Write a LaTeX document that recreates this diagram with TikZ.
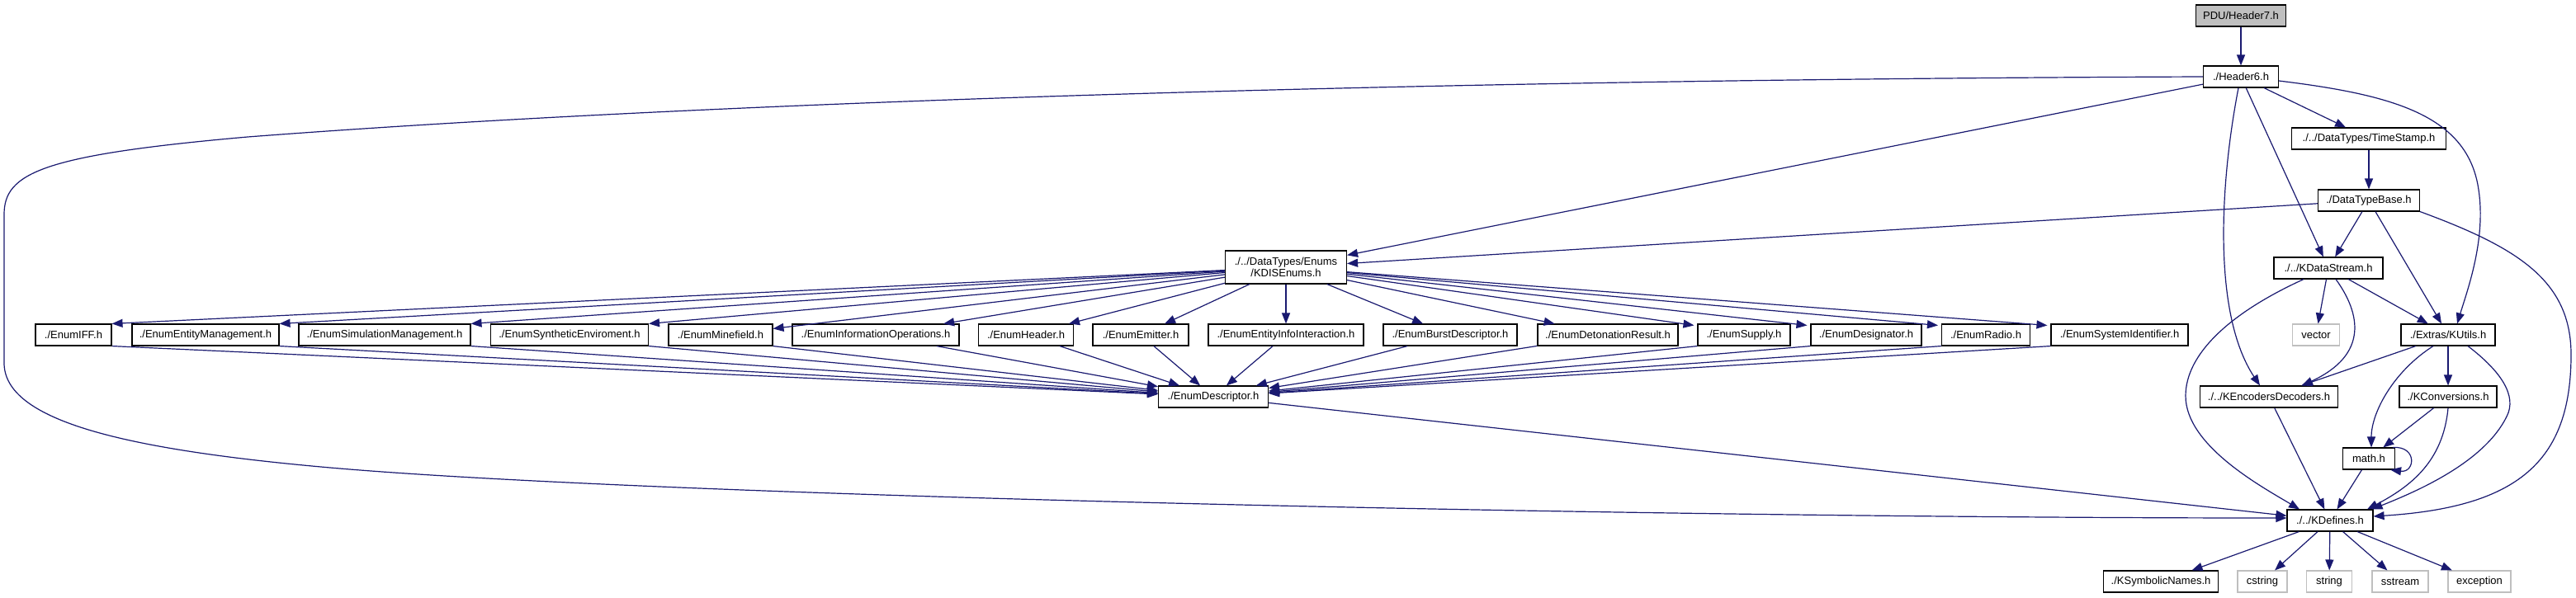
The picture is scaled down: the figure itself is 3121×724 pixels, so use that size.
\documentclass[tikz,border=0pt]{standalone}
\usepackage{fontspec}
\setmainfont{Liberation Sans}
\usetikzlibrary{arrows.meta}
\definecolor{edgecol}{HTML}{191970}
\definecolor{sysgray}{HTML}{BFBFBF}
\begin{document}
\begin{tikzpicture}[x=1pt,y=-1pt,
  box/.style={draw=black, line width=1.1pt, fill=white, minimum height=26pt,
    inner xsep=2pt, inner ysep=0pt, font=\fontsize{13}{15}\selectfont, text=black},
  sysbox/.style={box, draw=sysgray},
  rootbox/.style={box, fill=sysgray},
  edge/.style={draw=edgecol, line width=1.2pt, -{Triangle[length=13pt,width=10pt]}}]
\useasboundingbox[fill=white] (0,0) rectangle (3121,724);

% top
\node[rootbox, minimum width=109pt] (hsev) at (2715,19) {PDU/Header7.h};
\node[box, minimum width=91pt] (hsix) at (2715,93) {./Header6.h};
\node[box, minimum width=187pt] (ts) at (2870,168) {./../DataTypes/TimeStamp.h};
\node[box, minimum width=123pt] (dtb) at (2870,243) {./DataTypeBase.h};
\node[box, minimum width=147pt, minimum height=40pt, align=center,
  font=\fontsize{13}{14}\selectfont] (kdis) at (1558,324) {./../DataTypes/Enums\\/KDISEnums.h};
\node[box, minimum width=132pt] (kds) at (2821,325) {./../KDataStream.h};

% enum row
\node[box, minimum width=92pt] (iff) at (89,406) {./EnumIFF.h};
\node[box, minimum width=178pt] (entmgmt) at (249,406) {./EnumEntityManagement.h};
\node[box, minimum width=208pt] (simmgmt) at (466,406) {./EnumSimulationManagement.h};
\node[box, minimum width=191pt] (synth) at (690,406) {./EnumSyntheticEnviroment.h};
\node[box, minimum width=126pt] (mine) at (873,406) {./EnumMinefield.h};
\node[box, minimum width=202pt] (infoops) at (1061,406) {./EnumInformationOperations.h};
\node[box, minimum width=115pt] (header) at (1243,406) {./EnumHeader.h};
\node[box, minimum width=116pt] (emitter) at (1382,406) {./EnumEmitter.h};
\node[box, minimum width=188pt] (einfo) at (1558,406) {./EnumEntityInfoInteraction.h};
\node[box, minimum width=162pt] (burst) at (1757,406) {./EnumBurstDescriptor.h};
\node[box, minimum width=170pt] (deton) at (1948,406) {./EnumDetonationResult.h};
\node[box, minimum width=112pt] (supply) at (2113,406) {./EnumSupply.h};
\node[box, minimum width=134pt] (desig) at (2261,406) {./EnumDesignator.h};
\node[box, minimum width=107pt] (radio) at (2406,406) {./EnumRadio.h};
\node[box, minimum width=166pt] (sysid) at (2568,406) {./EnumSystemIdentifier.h};
\node[sysbox, minimum width=57pt] (vector) at (2806,406) {vector};
\node[box, minimum width=114pt] (kutils) at (2966,406) {./Extras/KUtils.h};

% lower
\node[box, minimum width=133pt] (edesc) at (1470,481) {./EnumDescriptor.h};
\node[box, minimum width=167pt] (ked) at (2749,481) {./../KEncodersDecoders.h};
\node[box, minimum width=118pt] (kconv) at (2966,481) {./KConversions.h};
\node[box, minimum width=63pt] (math) at (2870,556) {math.h};
\node[box, minimum width=104pt] (kdef) at (2823,631) {./../KDefines.h};
\node[box, minimum width=139pt] (ksym) at (2618,705) {./KSymbolicNames.h};
\node[sysbox, minimum width=60pt] (cstr) at (2741,705) {cstring};
\node[sysbox, minimum width=55pt] (str) at (2822,705) {string};
\node[sysbox, minimum width=68pt] (sstr) at (2908,705) {sstream};
\node[sysbox, minimum width=76pt] (exc) at (3004,705) {exception};

% edges from the top
\draw[edge] (hsev) -- (hsix);
\draw[edge] (hsix) -- (kdis);
\draw[edge] (hsix) -- (ts);
\draw[edge] (hsix) -- (kds);
\draw[edge] ([xshift=-3pt]hsix.south) .. controls (2690,220) and (2680,380) .. ([xshift=-11pt]ked.north);
\draw[edge] ([yshift=-5pt]hsix.east) .. controls (2900,115) and (2990,140) .. (3003,230)
   .. controls (3012,290) and (2990,350) .. ([xshift=11pt]kutils.north);
\draw[edge] (hsix.west) .. controls (1800,96) and (900,120) .. (300,166)
   .. controls (50,188) and (5,210) .. (5,260) -- (5,440)
   .. controls (5,510) and (150,545) .. (400,567)
   .. controls (800,602) and (2000,628) .. ([yshift=3pt]kdef.west);

\draw[edge] (ts) -- (dtb);
\draw[edge] (dtb) -- (kdis);
\draw[edge] (dtb) -- (kds);
\draw[edge] (dtb) -- (kutils);
\draw[edge] (dtb.south east) .. controls (3050,300) and (3115,340) .. (3115,430)
   .. controls (3115,560) and (3050,615) .. ([yshift=5pt]kdef.east);

\draw[edge] (kds) -- (vector);
\draw[edge] (kds) -- (kutils);
\draw[edge] ([xshift=9pt]kds.south) .. controls (2860,380) and (2870,430) .. ([xshift=40pt]ked.north);
\draw[edge] ([xshift=-30pt]kds.south) .. controls (2700,380) and (2648,430) .. (2648,480)
   .. controls (2648,540) and (2740,590) .. ([xshift=-37pt]kdef.north);

\draw[edge] (kutils) -- (ked);
\draw[edge] (kutils) -- (kconv);
\draw[edge] ([xshift=-18pt]kutils.south) .. controls (2900,450) and (2873,500) .. ([xshift=3pt]math.north);
\draw[edge] ([xshift=24pt]kutils.south) .. controls (3030,450) and (3050,480) .. (3037,505)
   .. controls (3010,560) and (2930,595) .. ([xshift=-2pt]kdef.north east);

\draw[edge] (kconv) -- (math);
\draw[edge] (kconv.south) .. controls (2960,560) and (2920,590) .. ([xshift=45pt]kdef.north);
\draw[edge] ([xshift=-3pt]math.north east) .. controls +(30,-2) and +(30,4) .. ([xshift=-6pt]math.south east);
\draw[edge] (math) -- (kdef);
\draw[edge] (ked) -- (kdef);
\foreach \n in {ksym,cstr,str,sstr,exc} \draw[edge] (kdef) -- (\n);
\draw[edge] (edesc) -- (kdef);

% KDISEnums fan
\foreach \n in {iff,entmgmt,simmgmt,synth} {
  \draw[edge] (kdis) -- (\n.north east);
  \draw[edge] (\n.south east) -- (edesc);
}
\draw[edge] (kdis) -- (mine);
\draw[edge] (mine.south east) -- (edesc);
\foreach \n in {infoops,header,emitter,einfo,burst,deton} {
  \draw[edge] (kdis) -- (\n);
  \draw[edge] (\n) -- (edesc);
}
\foreach \n in {supply,desig,radio,sysid} {
  \draw[edge] (kdis) -- ([xshift=-4pt,yshift=-2pt]\n.north west);
  \draw[edge] (\n.south west) -- (edesc);
}
\end{tikzpicture}
\end{document}
